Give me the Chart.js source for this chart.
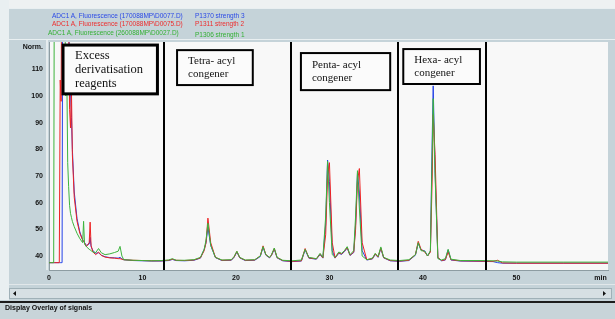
<!DOCTYPE html>
<html>
<head>
<meta charset="utf-8">
<script src="https://cdn.jsdelivr.net/npm/chart.js@4.4.0/dist/chart.umd.min.js"></script>
<style>
  html, body { margin: 0; padding: 0; background: #c5d3d9; }
  #wrap { position: relative; width: 615px; height: 319px; overflow: hidden; }
  canvas { position: absolute; left: 0; top: 0; }
  .leg { position: absolute; font: 6.5px "Liberation Sans", Arial, sans-serif; white-space: nowrap; line-height: 8px; }
  #status { position: absolute; left: 5px; top: 304px; font: bold 7px "Liberation Sans", Arial, sans-serif; color: #101010; }
</style>
</head>
<body>
<div id="wrap">
  <canvas id="chroma" width="615" height="319"></canvas>
  <div id="status">Display Overlay of signals</div>
</div>
<script>
/* =========================
   DATA
========================= */
// retention time, min
const times = [
  0, 0.5, 0.6, 1.1, 1.2, 1.3, 1.4, 1.5, 1.8, 1.9,
  2.0, 2.1, 2.2, 2.3, 2.4, 2.5, 2.7, 3.0, 3.3, 3.6,
  3.7, 3.8, 4.0, 4.3, 4.4, 4.5, 4.7, 5.0, 5.3, 5.6,
  6.0, 6.5, 7.0, 7.4, 7.6, 7.8, 8.0, 9.0, 10.0, 11.0,
  12.0, 12.8, 13.2, 13.6, 14.5, 15.5, 16.2, 16.6, 16.8, 17.0,
  17.3, 17.8, 18.5, 19.5, 19.8, 20.1, 20.4, 21.0, 22.0, 22.6,
  22.9, 23.2, 23.6, 23.8, 24.1, 24.4, 25.0, 26.0, 27.0, 27.4,
  27.8, 28.6, 29.0, 29.3, 29.6, 29.8, 30.0, 30.3, 30.6, 31.0,
  31.3, 31.6, 31.9, 32.2, 32.6, 32.8, 33.0, 33.2, 33.5, 34.0,
  34.6, 34.9, 35.2, 35.5, 35.8, 36.5, 37.5, 38.5, 39.2, 39.5,
  39.8, 40.2, 40.5, 40.8, 41.0, 41.1, 41.3, 41.6, 42.0, 42.4,
  42.7, 43.0, 44.0, 46.0, 47.5, 48.0, 48.5, 50, 55, 60
];

// P1306 strength 1
const greenSignal = [
  37.5, 37.5, 200, 200, 200, 200, 200, 200, 100, 110,
  75, 66, 59, 56, 54.5, 53, 51, 48.5, 46.5, 45,
  53, 44.5, 43.5, 42.5, 42.3, 42, 41.5, 41.3, 42.8, 41.2,
  40.5, 40.8, 41.3, 41.8, 43.6, 40, 38.6, 38.4, 38.3, 38.2,
  38.3, 38.5, 39.0, 38.4, 38.4, 38.6, 39.5, 42.5, 46, 52.3,
  44, 39.5, 38.5, 38.6, 39.8, 41.8, 39.5, 38.5, 38.6, 40,
  43.5, 40.5, 39.5, 40.5, 43, 39.5, 38.4, 38.2, 38.5, 42.5,
  39.5, 39, 41, 39.5, 55, 75.5, 60, 40.5, 39.5, 41.5,
  41, 42, 43.5, 40.5, 42, 55, 72, 58, 40, 38.6,
  39.2, 41, 39.8, 43.4, 39.5, 38.5, 38.3, 38.6, 40.5, 45,
  42, 41.8, 40, 42, 80, 99, 70, 39, 38.5, 39,
  42.5, 38.8, 38.3, 38.3, 38.2, 38.1, 37.8, 37.7, 37.7, 37.7
];

// P1311 strength 2
const redSignal = [
  37.5, 37.5, 37.5, 37.5, 106, 98, 200, 200, 200, 200,
  200, 130, 95, 88, 103, 78, 62, 53, 48.5, 46,
  45.5, 45, 43.5, 45, 52.7, 44, 41.5, 40.5, 41.5, 40.2,
  39.6, 39.3, 39.2, 39, 39, 38.8, 38.6, 38.4, 38.3, 38.2,
  38.2, 38.4, 38.8, 38.4, 38.3, 38.5, 39.3, 42, 45, 54.2,
  45, 39.5, 38.4, 38.5, 39.6, 41.7, 39.4, 38.4, 38.5, 40,
  43.8, 40.5, 39.4, 40.3, 42.8, 39.4, 38.3, 38.0, 38.2, 42.8,
  39.3, 38.9, 40.7, 39.3, 48, 70, 75, 45, 39.3, 41.2,
  40.8, 41.8, 43.2, 40.3, 41.5, 50, 68, 72.8, 45, 38.6,
  39, 40.8, 39.6, 43, 39.4, 38.3, 38.1, 38.4, 40.5, 45.5,
  42.5, 41.5, 40, 41.5, 70, 93, 78, 39.5, 38.3, 38.6,
  41.5, 38.6, 38.2, 38.1, 38.0, 38.4, 37.4, 37.3, 37.3, 37.3
];

// P1370 strength 3
const blueSignal = [
  37.5, 37.5, 37.5, 37.5, 37.5, 37.5, 37.5, 200, 200, 200,
  200, 150, 96, 104.8, 92, 80, 64, 54, 49, 46,
  45.5, 45, 44, 44.5, 47, 43.5, 42, 41, 41.2, 40.3,
  39.7, 39.4, 39.3, 39.2, 39.5, 38.9, 38.6, 38.3, 38.2, 38.1,
  38.1, 38.3, 38.7, 38.3, 38.2, 38.4, 39.2, 42.5, 45, 50.8,
  44, 39.4, 38.3, 38.4, 39.5, 41.5, 39.3, 38.3, 38.4, 39.8,
  43.3, 40.3, 39.3, 40.2, 42.6, 39.3, 38.2, 37.9, 38.1, 42.3,
  39.2, 38.8, 40.5, 39.2, 52, 76, 68, 42, 39.2, 41,
  40.6, 41.6, 43, 40.2, 41.3, 52, 71, 64, 42, 38.5,
  38.9, 40.6, 39.5, 42.8, 39.3, 38.2, 38.0, 38.3, 40.3, 44.8,
  42.3, 41.9, 40, 41.8, 85, 103.8, 72, 39.3, 38.2, 38.5,
  42.3, 38.5, 38.1, 38.0, 37.9, 37.5, 37.3, 37.3, 37.3, 37.3
];

const signalFiles = [
  "ADC1 A, Fluorescence (170088MP\\D0077.D)",
  "ADC1 A, Fluorescence (170088MP\\D0075.D)",
  "ADC1 A, Fluorescence (260088MP\\D0027.D)"
];
const signalNames = ["P1370 strength 3", "P1311 strength 2", "P1306 strength 1"];

const xTicks = [0, 10, 20, 30, 40, 50, 59];
const xTickLabels = ["0", "10", "20", "30", "40", "50", "min"];
const yTicks = [40, 50, 60, 70, 80, 90, 100, 110, 118.5];
const yTickLabels = ["40", "50", "60", "70", "80", "90", "100", "110", "Norm."];

// section dividers, min
const dividers = [12.3, 25.9, 37.35, 46.75];

// label boxes: min from/to, signal top/bottom
const boxes = [
  { x0: 1.5, x1: 11.6, top: 119.1, bottom: 100.8, lines: ["Excess", "derivatisation", "reagents"], size: 12.5, lw: 3 },
  { x0: 13.7, x1: 21.8, top: 117.2, bottom: 104.1, lines: ["Tetra- acyl", "congener"], size: 11, lw: 2 },
  { x0: 26.95, x1: 36.5, top: 116.1, bottom: 102.2, lines: ["Penta- acyl", "congener"], size: 11, lw: 2 },
  { x0: 37.9, x1: 46.1, top: 117.6, bottom: 104.5, lines: ["Hexa- acyl", "congener"], size: 11, lw: 2 }
];

/* =========================
   HEADER LEGEND
========================= */
const legColors = ["#2a48e6", "#ee2b2b", "#33b033"];
const legRows = [15.5, 23.5, 32.5];
const wrap = document.getElementById("wrap");
signalFiles.forEach((name, i) => {
  const a = document.createElement("div");
  a.className = "leg";
  a.style.left = (i === 2 ? 48 : 52) + "px";
  a.style.top = (legRows[i] - 4) + "px";
  a.style.color = legColors[i];
  a.textContent = name;
  wrap.appendChild(a);
  const b = document.createElement("div");
  b.className = "leg";
  b.style.left = "195px";
  b.style.top = (legRows[i] - 4 + (i === 2 ? 2 : 0)) + "px";
  b.style.color = legColors[i];
  b.textContent = signalNames[i];
  wrap.appendChild(b);
});

/* =========================
   CHART
========================= */
const chromePlugin = {
  id: "chrome",
  beforeDraw(chart) {
    const { ctx, chartArea: a, width } = chart;
    ctx.save();
    ctx.fillStyle = "#c5d3d9";
    ctx.fillRect(0, 0, width, chart.height);
    ctx.fillStyle = "#eef1f2";
    ctx.fillRect(0, 0, width, 8);
    ctx.fillStyle = "#e9eff1";
    ctx.fillRect(0, 8, width, 1);
    ctx.fillRect(0, 39, width, 1);
    ctx.fillRect(0, 0, 9, 300);
    ctx.fillStyle = "#c5d3d9";
    ctx.fillRect(9, 9, width, 30);
    ctx.fillRect(9, 40, a.left - 12, 245);
    ctx.fillStyle = "#e6ecee";
    ctx.fillRect(a.left - 3, 40, 2, a.bottom - 40);
    ctx.fillStyle = "#f8f8f8";
    ctx.fillRect(a.left, a.top, a.right - a.left, a.bottom - a.top);
    // scrollbar
    ctx.fillStyle = "#e1e7ea";
    ctx.fillRect(9, 284, width - 9, 1);
    ctx.fillStyle = "#d6dfe3";
    ctx.fillRect(9, 288, width - 12, 10);
    ctx.strokeStyle = "#9fb0b7";
    ctx.strokeRect(9.5, 288.5, width - 13, 10);
    ctx.fillStyle = "#111";
    ctx.beginPath();
    ctx.moveTo(13, 293.5); ctx.lineTo(16, 291); ctx.lineTo(16, 296); ctx.fill();
    ctx.beginPath();
    ctx.moveTo(606, 293.5); ctx.lineTo(603, 291); ctx.lineTo(603, 296); ctx.fill();
    // status bar
    ctx.fillStyle = "#1c1c1c";
    ctx.fillRect(0, 301, width, 2);
    ctx.fillStyle = "#c8d4d9";
    ctx.fillRect(0, 303, width, 16);
    ctx.restore();
  },
  afterDatasetsDraw(chart) {
    const { ctx, chartArea: a, scales: { x, y } } = chart;
    ctx.save();
    ctx.fillStyle = "#000";
    dividers.forEach(t => {
      const px = Math.round(x.getPixelForValue(t));
      ctx.fillRect(px - 1, a.top, 2, a.bottom - a.top);
    });
    boxes.forEach(b => {
      const l = x.getPixelForValue(b.x0), r = x.getPixelForValue(b.x1);
      const t = y.getPixelForValue(b.top), btm = y.getPixelForValue(b.bottom);
      ctx.fillStyle = "#fbfbfb";
      ctx.fillRect(l, t, r - l, btm - t);
      ctx.lineWidth = b.lw;
      ctx.strokeStyle = "#000";
      ctx.strokeRect(l, t, r - l, btm - t);
      ctx.fillStyle = "#111";
      ctx.font = b.size + 'px "Liberation Serif", "Times New Roman", serif';
      ctx.textBaseline = "middle";
      const lh = b.size + 1.5;
      const pad = b.lines.length === 3 ? 12 : 11;
      const start = (t + btm) / 2 - (b.lines.length - 1) * lh / 2;
      b.lines.forEach((s, i) => ctx.fillText(s, l + pad, start + i * lh));
    });
    ctx.restore();
  }
};

const series = [
  { label: signalNames[2], data: greenSignal, color: "#3cb43c" },
  { label: signalNames[1], data: redSignal, color: "#ee2222" },
  { label: signalNames[0], data: blueSignal, color: "#2442e8" }
];

new Chart(document.getElementById("chroma"), {
  type: "line",
  data: {
    datasets: series.map(s => ({
      label: s.label,
      data: times.map((t, i) => ({ x: t, y: s.data[i] })),
      borderColor: s.color,
      borderWidth: 1,
      pointRadius: 0,
      tension: 0
    }))
  },
  options: {
    responsive: false,
    animation: false,
    devicePixelRatio: 1,
    layout: { padding: { top: 42, right: 7, left: 0, bottom: 0 } },
    plugins: { legend: { display: false }, tooltip: { enabled: false } },
    scales: {
      x: {
        type: "linear",
        min: 0,
        max: 59.8,
        afterFit: s => { s.height = 49; },
        afterBuildTicks: s => { s.ticks = xTicks.map(v => ({ value: v })); },
        grid: { display: false, drawTicks: false },
        border: { display: true, color: "#8d9ca2", width: 1 },
        ticks: {
          autoSkip: false,
          maxRotation: 0,
          padding: 4,
          color: "#111",
          font: { family: "Liberation Sans", size: 7, weight: "bold" },
          callback: (v, i) => xTickLabels[i]
        }
      },
      y: {
        min: 34.75,
        max: 120.25,
        afterFit: s => { s.width = 49; },
        afterBuildTicks: s => { s.ticks = yTicks.map(v => ({ value: v })); },
        grid: { display: false, drawTicks: false },
        border: { display: true, color: "#8d9ca2", width: 1 },
        ticks: {
          autoSkip: false,
          padding: 6,
          color: "#111",
          font: { family: "Liberation Sans", size: 7, weight: "bold" },
          callback: (v, i) => yTickLabels[i]
        }
      }
    }
  },
  plugins: [chromePlugin]
});
</script>
</body>
</html>
